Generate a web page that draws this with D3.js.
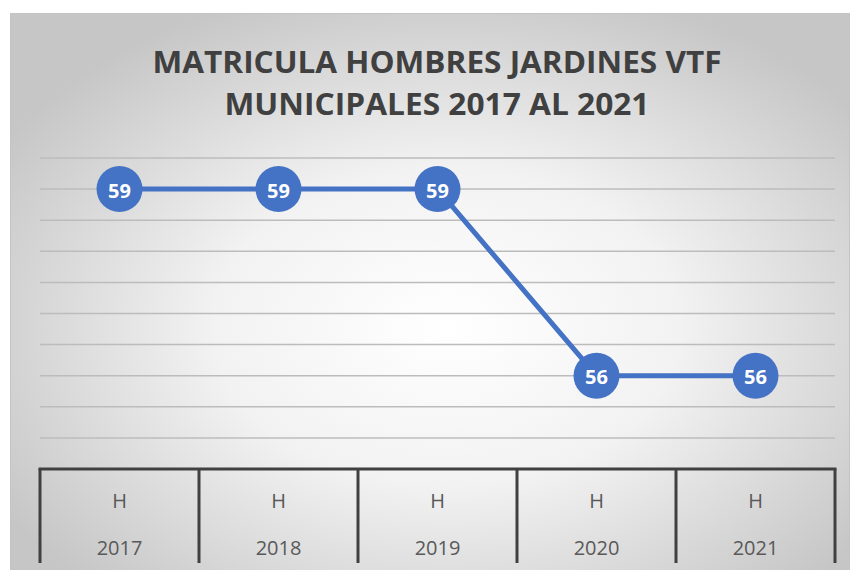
<!DOCTYPE html>
<html>
<head>
<meta charset="utf-8">
<script src="https://cdn.jsdelivr.net/npm/d3@7"></script>
<style>
  body { margin: 0; background: #fff; }
  svg { display: block; }
</style>
</head>
<body>
<div id="chart"></div>
<script>
// Data
const years = ["2017", "2018", "2019", "2020", "2021"];
const seriesLabel = ["H", "H", "H", "H", "H"];
const values = [59, 59, 59, 56, 56];
const gridTicks = [55, 55.5, 56, 56.5, 57, 57.5, 58, 58.5, 59, 59.5];
const titleLines = ["MATRICULA HOMBRES JARDINES VTF", "MUNICIPALES 2017 AL 2021"];

const W = 851, H = 570;
const margin = { top: 158, right: 16, bottom: 101, left: 40 };
const width = W - margin.left - margin.right;
const height = H - margin.top - margin.bottom;

const svg = d3.select("#chart").append("svg")
  .attr("width", W)
  .attr("height", H);

// Background gradient
const defs = svg.append("defs");
const grad = defs.append("radialGradient")
  .attr("id", "bg")
  .attr("cx", "52%").attr("cy", "55%").attr("r", "62%");
grad.append("stop").attr("offset", "0%").attr("stop-color", "#ffffff");
grad.append("stop").attr("offset", "45%").attr("stop-color", "#f2f2f2");
grad.append("stop").attr("offset", "100%").attr("stop-color", "#c6c6c6");

svg.append("rect")
  .attr("x", 10.5).attr("y", 13.5)
  .attr("width", 839).attr("height", 570)
  .attr("fill", "url(#bg)")
  .attr("stroke", "#c4c4c4")
  .attr("stroke-width", 1);

// Title
svg.selectAll(".title")
  .data(titleLines)
  .enter().append("text")
  .attr("class", "title")
  .attr("x", 437)
  .attr("y", (d, i) => 73 + i * 42)
  .attr("text-anchor", "middle")
  .attr("textLength", (d, i) => i === 0 ? 569 : 425)
  .attr("lengthAdjust", "spacingAndGlyphs")
  .style("font-family", "'Open Sans', sans-serif")
  .style("font-weight", "bold")
  .style("font-size", "30px")
  .style("fill", "#404040")
  .text(d => d);

const g = svg.append("g")
  .attr("transform", `translate(${margin.left},${margin.top})`);

// Scales
const x = d3.scaleBand().domain(years).range([0, width]);
const y = d3.scaleLinear().domain([54.5, 59.5]).range([height, 0]);

// Gridlines
g.selectAll(".grid")
  .data(gridTicks)
  .enter().append("line")
  .attr("class", "grid")
  .attr("x1", 0).attr("x2", width)
  .attr("y1", d => y(d)).attr("y2", d => y(d))
  .attr("stroke", "#bcbcbc")
  .attr("stroke-width", 1.5);

// Category axis (table style)
const axisG = g.append("g").attr("transform", `translate(0,${height})`);
axisG.append("line")
  .attr("x1", -1.5).attr("x2", width + 1.5)
  .attr("y1", 0).attr("y2", 0)
  .attr("stroke", "#404040").attr("stroke-width", 3);

const bounds = years.map(d => x(d)).concat([width]);
axisG.selectAll(".tick-line")
  .data(bounds)
  .enter().append("line")
  .attr("class", "tick-line")
  .attr("x1", d => d).attr("x2", d => d)
  .attr("y1", 0).attr("y2", 94)
  .attr("stroke", "#404040").attr("stroke-width", 3);

axisG.selectAll(".lbl-h")
  .data(years)
  .enter().append("text")
  .attr("x", d => x(d) + x.bandwidth() / 2)
  .attr("y", 39)
  .attr("text-anchor", "middle")
  .style("font-family", "'Open Sans', sans-serif")
  .style("font-size", "20px")
  .style("fill", "#595959")
  .text((d, i) => seriesLabel[i]);

axisG.selectAll(".lbl-year")
  .data(years)
  .enter().append("text")
  .attr("x", d => x(d) + x.bandwidth() / 2)
  .attr("y", 86)
  .attr("text-anchor", "middle")
  .style("font-family", "'Open Sans', sans-serif")
  .style("font-size", "20px")
  .style("fill", "#595959")
  .text(d => d);

// Line
const pts = years.map((d, i) => ({ year: d, value: values[i] }));
const line = d3.line()
  .x(d => x(d.year) + x.bandwidth() / 2)
  .y(d => y(d.value));

g.append("path")
  .datum(pts)
  .attr("d", line)
  .attr("fill", "none")
  .attr("stroke", "#4472C4")
  .attr("stroke-width", 5)
  .attr("stroke-linejoin", "round");

// Markers
g.selectAll(".dot")
  .data(pts)
  .enter().append("circle")
  .attr("class", "dot")
  .attr("cx", d => x(d.year) + x.bandwidth() / 2)
  .attr("cy", d => y(d.value))
  .attr("r", 23)
  .attr("fill", "#4472C4");

g.selectAll(".dot-label")
  .data(pts)
  .enter().append("text")
  .attr("class", "dot-label")
  .attr("x", d => x(d.year) + x.bandwidth() / 2)
  .attr("y", d => y(d.value) + 1)
  .attr("text-anchor", "middle")
  .attr("dominant-baseline", "central")
  .style("font-family", "'Open Sans', sans-serif")
  .style("font-weight", "bold")
  .style("font-size", "20px")
  .style("fill", "#ffffff")
  .text(d => d.value);
</script>
</body>
</html>
